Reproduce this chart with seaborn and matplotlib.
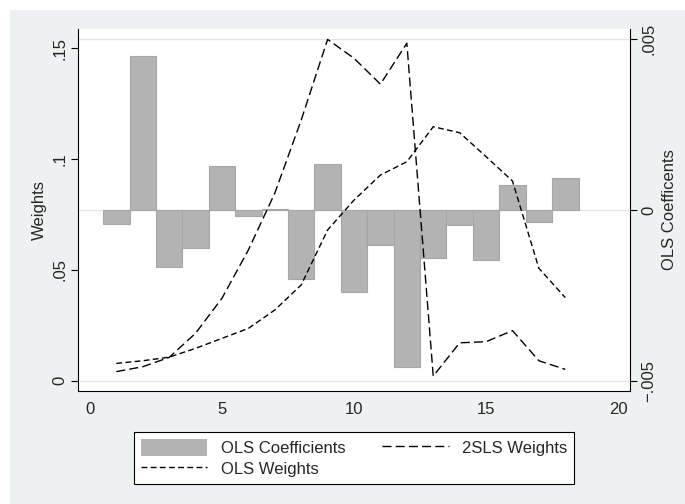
import numpy as np
import pandas as pd
import matplotlib
matplotlib.use("Agg")
import matplotlib.pyplot as plt
from matplotlib.patches import Rectangle, Patch
from matplotlib.lines import Line2D
import seaborn as sns

# values
periods = list(range(1, 19))
ols_coef = [-0.00041, 0.00452, -0.00166, -0.00110, 0.00129, -0.00017, 0.00004, -0.00202, 0.00136,
            -0.00239, -0.00103, -0.00461, -0.00141, -0.00044, -0.00147, 0.00073, -0.00034, 0.00093]
tsls_weights = [0.0041, 0.0063, 0.0105, 0.0214, 0.0372, 0.0590, 0.0846, 0.1176, 0.1540,
                0.1455, 0.1338, 0.1523, 0.0021, 0.0171, 0.0176, 0.0226, 0.0090, 0.0051]
ols_weights = [0.0078, 0.0090, 0.0106, 0.0146, 0.0191, 0.0236, 0.0319, 0.0432, 0.0680,
               0.0815, 0.0928, 0.0988, 0.1146, 0.1119, 0.1011, 0.0901, 0.0507, 0.0375]

x_ticks = [0, 5, 10, 15, 20]
left_ticks = [0, 0.05, 0.1, 0.15]
left_labels = ["0", ".05", ".1", ".15"]
right_ticks = [-0.005, 0, 0.005]
right_labels = ["\u2212.005", "0", ".005"]

df = pd.DataFrame({"period": periods, "coef": ols_coef,
                   "tsls": tsls_weights, "ols": ols_weights})

sns.set_theme(style="white")
plt.rcParams["font.family"] = ["Liberation Sans", "DejaVu Sans"]
fs = 12

fig = plt.figure(figsize=(6.85, 5.04), dpi=100)
fig.patch.set_facecolor("white")
fig.patches.append(Rectangle((10 / 685, 0), 1, 1 - 10 / 504, transform=fig.transFigure,
                             facecolor="#EEF1F1", edgecolor="none", zorder=-10))

ax = fig.add_axes([78.3 / 685, (504 - 391) / 504, (630 - 78.3) / 685, (391 - 29) / 504])
ax2 = ax.twinx()

bar_color = "#B3B3B3"
sns.barplot(data=df, x="period", y="coef", native_scale=True, width=1, ax=ax2,
            color=bar_color, saturation=1, edgecolor="#A6A6A6", linewidth=0.8)

sns.lineplot(data=df, x="period", y="tsls", ax=ax, color="black", lw=1.0,
             linestyle=(0, (6.5, 3)))
sns.lineplot(data=df, x="period", y="ols", ax=ax, color="black", lw=1.0,
             linestyle=(0, (4.2, 2.4)))

ax.set_zorder(ax2.get_zorder() + 1)
ax.patch.set_visible(False)
ax2.patch.set_visible(True)
ax2.patch.set_facecolor("white")

ax.set_xlim(-0.44, 20.45)
ax.set_ylim(-0.00465, 0.1587)
ax2.set_ylim(-0.0053, 0.0053)

ax.set_xticks(x_ticks)
ax.set_xticklabels([str(t) for t in x_ticks], fontsize=fs)
ax.set_yticks(left_ticks)
ax.set_yticklabels(left_labels, fontsize=fs, rotation=90, va="center")
ax2.set_yticks(right_ticks)
ax2.set_yticklabels(right_labels, fontsize=fs, rotation=90, va="center")

ax2.grid(axis="y", color="#E6E6E6", lw=1.0)
ax.grid(False)

for a in (ax, ax2):
    a.tick_params(axis="both", direction="out", length=5, width=0.8, color="black", pad=3)
    for s in ("left", "right", "bottom"):
        a.spines[s].set_color("black")
        a.spines[s].set_linewidth(0.8)
    a.spines["top"].set_visible(False)
ax.spines["right"].set_visible(False)
ax2.spines["left"].set_visible(False)
ax2.spines["bottom"].set_visible(False)

ax.set_xlabel("")
ax.set_ylabel("Weights", fontsize=fs, labelpad=4)
ax2.set_ylabel("OLS Coefficents", fontsize=fs, rotation=90, labelpad=4)
ax2.set_xlabel("")

handles = [Patch(facecolor=bar_color, edgecolor="none"),
           Line2D([], [], color="black", lw=1.0, linestyle=(0, (4.2, 2.4))),
           Line2D([], [], color="black", lw=1.0, linestyle=(0, (6.5, 3)))]
labels = ["OLS Coefficients", "OLS Weights", "2SLS Weights"]
leg = fig.legend(handles, labels, ncol=2, loc="center",
                 bbox_to_anchor=(354 / 685, 1 - 458 / 504), fontsize=fs,
                 frameon=True, fancybox=False, edgecolor="black", framealpha=1,
                 handlelength=4, handleheight=1.2, columnspacing=2.2,
                 labelspacing=0.25, borderpad=0.4, handletextpad=0.8)
leg.get_frame().set_linewidth(0.8)

fig.savefig("out.png", dpi=100)
